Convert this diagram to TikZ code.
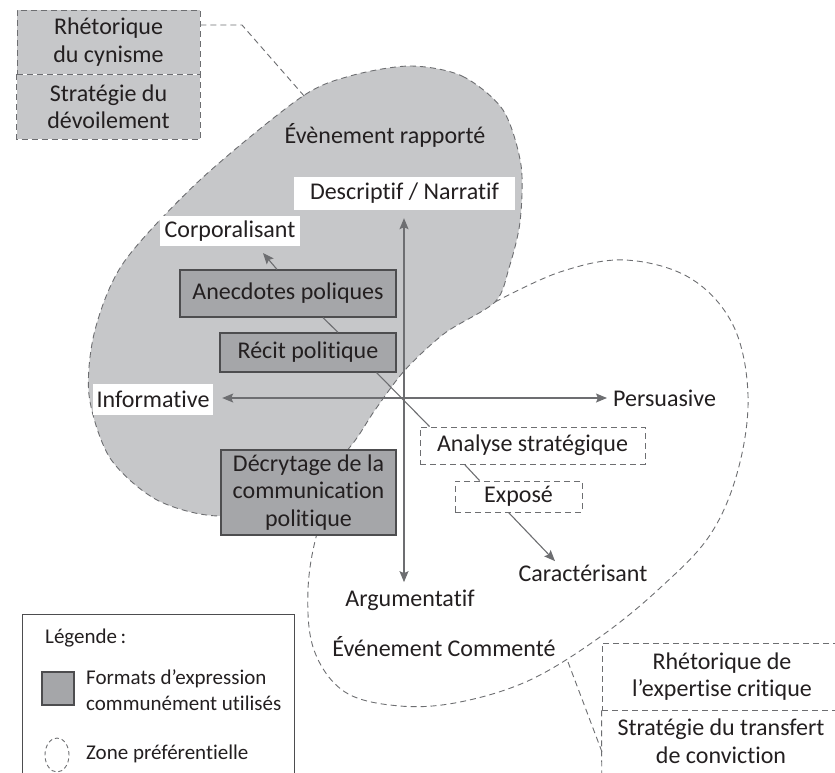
\documentclass[tikz,border=0pt]{standalone}
\usepackage{fontspec}
\setmainfont{Carlito}[Ligatures=NoCommon]
\usepackage{xcolor}
\usetikzlibrary{arrows.meta,shapes.geometric,positioning}
\definecolor{zonegray}{HTML}{C6C7C9}
\definecolor{formatgray}{HTML}{A5A6A9}
\definecolor{linegray}{HTML}{6D6E71}
\definecolor{edgegray}{HTML}{4D4D4F}
\definecolor{inkgray}{HTML}{231F20}

\begin{document}
\begin{tikzpicture}[x=1pt, y=-1pt, font=\fontsize{24}{27.5}\selectfont, text=inkgray,
    zone/.style={draw=linegray, line width=0.9pt, dash pattern=on 6pt off 4pt},
    rhetoric/.style={zone, align=center, inner sep=0pt},
    format/.style={draw=edgegray, fill=formatgray, line width=1.2pt, align=center, inner sep=0pt},
    option/.style={zone, align=center, inner sep=0pt},
    pole/.style={fill=white, inner sep=0pt},
    legtext/.style={anchor=west, align=left, inner sep=0pt, font=\fontsize{21}{26}\selectfont},
    link/.style={draw=linegray, line width=1.1pt},
    arr/.style={link, -{Stealth[length=11pt, width=9pt, inset=2pt]}},
    axis/.style={link, {Stealth[length=11pt, width=9pt, inset=2pt]}-{Stealth[length=11pt, width=9pt, inset=2pt]}}]
    \useasboundingbox (0,0) rectangle (835,772);

    % Commented event zone
    \draw[zone] plot[smooth, tension=0.6] coordinates {(495,302) (560,272) (625,260) (690,278) (733,325) (748,395) (738,470) (710,535) (660,588) (600,637) (530,680) (460,702) (400,706) (345,692) (314,650) (308,590) (318,530) (340,480)};

    % Reported event zone
    \path[zone, fill=zonegray] plot[smooth cycle, tension=0.5] coordinates {(410,66) (462,76) (503,110) (521,165) (520,222) (509,268) (495,302) (445,333) (405,370) (375,410) (350,447) (300,500) (220,516) (157,500) (110,458) (89,395) (95,330) (124,262) (200,180) (300,98) (350,76)};

    % Rhetorics and strategies
    \node[rhetoric, fill=zonegray, minimum width=183pt, minimum height=64pt] (rhetcyn) at (108.5,42) {Rhétorique\\du cynisme};
    \node[rhetoric, draw=none, fill=zonegray, minimum width=183pt, minimum height=64pt, below=0pt of rhetcyn] (stratdev) {Stratégie du\\dévoilement};
    \draw[zone] (rhetcyn.south west) -- (stratdev.south west) -- (stratdev.south east) -- (rhetcyn.south east);
    \node[rhetoric, minimum width=240pt, minimum height=67pt] (rhetexp) at (722,676.5) {Rhétorique de\\l’expertise critique};
    \node[minimum width=240pt, minimum height=90pt, below=0pt of rhetexp] (transfertbox) {};
    \draw[zone] (rhetexp.south west) -- (transfertbox.south west);
    \node[align=center] (transfert) at (721,741) {Stratégie du transfert\\de conviction};

    % Zone names
    \node (evrap) at (385,135) {Évènement rapporté};
    \node (evcom) at (444,647) {Événement Commenté};

    % Poles of the axes
    \node[pole, minimum width=221pt, minimum height=33pt] (descnarr) at (404.5,193.5) {Descriptif / Narratif};
    \node[pole, minimum width=140pt, minimum height=30pt] (corpo) at (230,231) {Corporalisant};
    \node[pole, minimum width=120pt, minimum height=31pt] (informative) at (153,399.5) {Informative};
    \node[anchor=west, inner sep=0pt] (persuasive) at (613,398) {Persuasive};
    \node (argum) at (410,600) {Argumentatif};
    \node (caract) at (583,573) {Caractérisant};

    % Formats
    \node[format, minimum width=216pt, minimum height=47pt] (anecdotes) at (288,293.5) {Anecdotes poliques};
    \node[format, minimum width=176pt, minimum height=39pt] (recit) at (308,352.5) {Récit politique};
    \node[format, minimum width=175pt, minimum height=85pt] (decryptage) at (308.5,492.5) {Décrytage de la\\communication\\politique};
    \node[option, minimum width=225pt, minimum height=37pt] (analyse) at (532.5,445.5) {Analyse stratégique};
    \node[option, minimum width=127pt, minimum height=31pt] (expose) at (518.5,496.5) {Exposé};

    % Legend
    \node[draw=edgegray, line width=0.9pt, minimum width=272pt, minimum height=180pt, anchor=north west] (legendbox) at (22,614) {};
    \node[legtext] (legende) at (45,638) {Légende\,:};
    \node[format, minimum width=32pt, minimum height=33pt] (legformat) at (58,688.5) {};
    \node[legtext] (legformattext) at (86,690) {Formats d’expression\\communément utilisés};
    \node[zone, dash pattern=on 4pt off 3pt, ellipse, inner sep=0pt, minimum width=24pt, minimum height=34pt] (legzone) at (57,755) {};
    \node[legtext] (legzonetext) at (86,754) {Zone préférentielle};

    % Leaders to the zones
    \coordinate (cynbend) at (242,25);
    \coordinate (cyntouch) at (305,97);
    \draw[zone] (rhetcyn.east |- cynbend) -- (cynbend) -- (cyntouch);
    \coordinate (combend) at (568,662);
    \coordinate (comtouch) at (602,752);
    \draw[zone] (combend) -- (comtouch);

    % Axes
    \coordinate (origin) at (404,398);
    \draw[axis, shorten <=9pt, shorten >=6pt] (informative.east |- origin) -- (persuasive.west |- origin);
    \draw[axis, shorten <=8pt, shorten >=4pt] (descnarr.south -| origin) -- (argum.north -| origin);

    % Links between formats
    \coordinate (corpotip) at (263,253);
    \draw[arr] ([xshift=-11pt]anecdotes.north) -- (corpotip);
    \draw[link] ([xshift=35pt]anecdotes.south) -- ([xshift=30pt]recit.north);
    \draw[link] ([xshift=-20pt]recit.south east) -- ([xshift=10pt]analyse.north west);
    \draw[link] ([xshift=45pt]analyse.south west) -- ([xshift=25pt]expose.north west);
    \draw[arr] ([xshift=-10pt]expose.south) -- ([xshift=-28pt]caract.north);
\end{tikzpicture}
\end{document}
